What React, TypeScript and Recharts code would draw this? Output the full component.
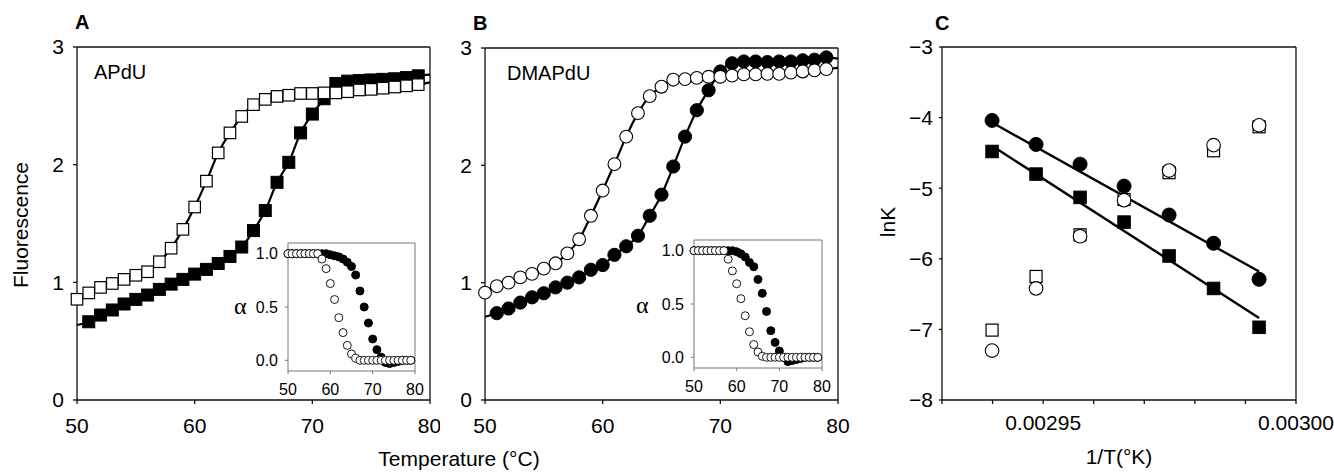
import React from 'react';
import { ComposedChart, Line, Scatter, XAxis, YAxis, ReferenceLine } from 'recharts';

// ---------- Panel A (APdU) ----------
const tempA_open = [50, 51, 52, 53, 54, 55, 56, 57, 58, 59, 60, 61, 62, 63, 64, 65, 66, 67, 68, 69, 70, 71, 72, 73, 74, 75, 76, 77, 78, 79];
const fluorA_open = [0.856, 0.91, 0.957, 0.99, 1.025, 1.06, 1.09, 1.175, 1.29, 1.45, 1.64, 1.86, 2.1, 2.27, 2.41, 2.51, 2.555, 2.58, 2.59, 2.605, 2.605, 2.61, 2.61, 2.62, 2.635, 2.64, 2.65, 2.66, 2.67, 2.68];
const tempA_filled = [51, 52, 53, 54, 55, 56, 57, 58, 59, 60, 61, 62, 63, 64, 65, 66, 67, 68, 69, 70, 71, 72, 73, 74, 75, 76, 77, 78, 79];
const fluorA_filled = [0.665, 0.722, 0.765, 0.816, 0.855, 0.892, 0.94, 0.985, 1.025, 1.07, 1.11, 1.16, 1.22, 1.3, 1.44, 1.61, 1.85, 2.02, 2.27, 2.43, 2.56, 2.69, 2.71, 2.715, 2.72, 2.725, 2.73, 2.74, 2.755];
const fitEndsA_filled = [0.637, 2.765]; // fit curve values at 50 and 80 °C
const fitEndA_open = 2.7; // fit curve value at 80 °C

// ---------- Panel B (DMAPdU) ----------
const tempB_open = [50, 51, 52, 53, 54, 55, 56, 57, 58, 59, 60, 61, 62, 63, 64, 65, 66, 67, 68, 69, 70, 71, 72, 73, 74, 75, 76, 77, 78, 79];
const fluorB_open = [0.915, 0.97, 1.0, 1.045, 1.075, 1.12, 1.165, 1.25, 1.37, 1.57, 1.785, 2.01, 2.245, 2.445, 2.59, 2.67, 2.73, 2.735, 2.745, 2.755, 2.755, 2.765, 2.775, 2.775, 2.78, 2.78, 2.79, 2.8, 2.81, 2.82];
const tempB_filled = [51, 52, 53, 54, 55, 56, 57, 58, 59, 60, 61, 62, 63, 64, 65, 66, 67, 68, 69, 70, 71, 72, 73, 74, 75, 76, 77, 78, 79];
const fluorB_filled = [0.74, 0.78, 0.83, 0.875, 0.91, 0.96, 1.0, 1.045, 1.11, 1.15, 1.237, 1.31, 1.4, 1.57, 1.75, 1.99, 2.245, 2.47, 2.64, 2.8, 2.87, 2.885, 2.885, 2.88, 2.885, 2.885, 2.895, 2.9, 2.92];
const fitEndsB_filled = [0.71, 2.91];
const fitEndB_open = 2.83;

// ---------- Insets (alpha vs temperature) ----------
const insetTemp = [50, 51, 52, 53, 54, 55, 56, 57, 58, 59, 60, 61, 62, 63, 64, 65, 66, 67, 68, 69, 70, 71, 72, 73, 74, 75, 76, 77, 78, 79];
const alphaA_open = [1, 1, 1, 1, 1, 1, 1, 1, 0.95, 0.86, 0.72, 0.57, 0.4, 0.26, 0.14, 0.06, 0.02, 0, 0, 0, 0, 0, 0, 0, 0, 0, 0, 0, 0, 0];
const alphaA_filled = [1, 1, 1, 1, 1, 1, 1, 1, 1, 1, 0.99, 0.98, 0.97, 0.95, 0.92, 0.88, 0.8, 0.65, 0.5, 0.35, 0.2, 0.1, 0.03, -0.02, -0.03, -0.02, -0.01, 0, 0, 0];
const alphaB_open = [1, 1, 1, 1, 1, 1, 1, 1, 0.92, 0.81, 0.69, 0.55, 0.39, 0.24, 0.12, 0.05, 0.01, 0, 0, 0, 0, 0, 0, 0, 0, 0, 0, 0, 0, 0];
const alphaB_filled = [1, 1, 1, 1, 1, 1, 1, 1, 1, 1, 0.99, 0.97, 0.94, 0.89, 0.85, 0.73, 0.6, 0.43, 0.25, 0.14, 0.06, 0.0, -0.04, -0.03, -0.02, -0.01, 0, 0, 0, 0];

// ---------- Panel C (van 't Hoff) ----------
const invT = [0.0029399, 0.0029486, 0.0029573, 0.002966, 0.0029749, 0.0029837, 0.0029927];
const lnK_filledCircle = [-4.04, -4.38, -4.66, -4.97, -5.38, -5.78, -6.29];
const lnK_filledSquare = [-4.48, -4.8, -5.13, -5.48, -5.96, -6.42, -6.97];
const lnK_openSquare = [-7.01, -6.25, -5.66, -5.16, -4.78, -4.47, -4.13];
const lnK_openCircle = [-7.3, -6.42, -5.68, -5.17, -4.75, -4.39, -4.11];
const fitX_C = [0.0029399, 0.0029927];
const fitCircle_C = [-4.07, -6.18];
const fitSquare_C = [-4.4, -6.84];

const ticksMainX = [50, 60, 70, 80];
const ticksMainY = [0, 1, 2, 3];
const ticksInsetY = [0, 0.5, 1];
const ticksC_X = [0.00293, 0.00294, 0.00295, 0.00296, 0.00297, 0.00298, 0.00299, 0.003];
const tickLabelsC_X = ['', '', '0.00295', '', '', '', '', '0.00300'];
const ticksC_Y = [-8, -7, -6, -5, -4, -3];

const FONT = "'Liberation Sans', Arial, Helvetica, sans-serif";
const H = 472;
const TICK_FS = 21;
const TITLE_FS = 21;

const zip = (xs: number[], ys: number[]) => xs.map((t, i) => ({ t, f: ys[i] }));

const sqFilled = (s: number) => (p: any) => (
  <rect x={p.cx - s / 2} y={p.cy - s / 2} width={s} height={s} fill="#000" stroke="#000" strokeWidth={1} />
);
const sqOpen = (s: number) => (p: any) => (
  <rect x={p.cx - s / 2} y={p.cy - s / 2} width={s} height={s} fill="#fff" stroke="#000" strokeWidth={1.2} />
);
const ciFilled = (r: number) => (p: any) => <circle cx={p.cx} cy={p.cy} r={r} fill="#000" stroke="#000" strokeWidth={1} />;
const ciOpen = (r: number, sw: number) => (p: any) => (
  <circle cx={p.cx} cy={p.cy} r={r} fill="#fff" stroke="#000" strokeWidth={sw} />
);

type Geo = { x0: number; y0: number; w: number; h: number; pl: number; pr: number; pt: number; pb: number; yw: number; xh: number };
const marginOf = (g: Geo) => ({
  top: g.pt - g.y0,
  left: g.pl - g.x0 - g.yw,
  right: g.x0 + g.w - g.pr,
  bottom: g.y0 + g.h - g.pb - g.xh,
});

const AXIS = '#111';

function MainMelt(props: {
  geo: Geo;
  lineFilled: any[];
  lineOpen: any[];
  filled: any[];
  open: any[];
  filledShape: any;
  openShape: any;
}) {
  const { geo } = props;
  return (
    <div style={{ position: 'absolute', left: geo.x0, top: geo.y0 }}>
      <ComposedChart width={geo.w} height={geo.h} margin={marginOf(geo)} style={{ overflow: 'visible' }}>
        <XAxis
          type="number"
          dataKey="t"
          domain={[50, 80]}
          ticks={ticksMainX}
          height={geo.xh}
          tickSize={4}
          tickMargin={14}
          stroke={AXIS}
          axisLine={{ stroke: AXIS, strokeWidth: 1.3 }}
          tickLine={{ stroke: AXIS, strokeWidth: 1.3 }}
          tick={{ fill: '#000', fontSize: TICK_FS, fontFamily: FONT }}
        />
        <YAxis
          type="number"
          domain={[0, 3]}
          ticks={ticksMainY}
          width={geo.yw}
          tickSize={4}
          tickMargin={9}
          stroke={AXIS}
          axisLine={{ stroke: AXIS, strokeWidth: 1.3 }}
          tickLine={{ stroke: AXIS, strokeWidth: 1.3 }}
          tick={{ fill: '#000', fontSize: TICK_FS, fontFamily: FONT }}
        />
        <ReferenceLine y={3} stroke={AXIS} strokeWidth={1.3} />
        <ReferenceLine x={80} stroke={AXIS} strokeWidth={1.3} />
        <Line data={props.lineFilled} dataKey="f" type="monotone" stroke="#000" strokeWidth={2.2} dot={false} activeDot={false} isAnimationActive={false} />
        <Line data={props.lineOpen} dataKey="f" type="monotone" stroke="#000" strokeWidth={2.2} dot={false} activeDot={false} isAnimationActive={false} />
        <Scatter data={props.filled} dataKey="f" shape={props.filledShape} isAnimationActive={false} />
        <Scatter data={props.open} dataKey="f" shape={props.openShape} isAnimationActive={false} />
      </ComposedChart>
    </div>
  );
}

function Inset(props: { geo: Geo; filled: any[]; open: any[] }) {
  const { geo } = props;
  const GR = '#777';
  return (
    <div style={{ position: 'absolute', left: geo.x0, top: geo.y0 }}>
      <ComposedChart width={geo.w} height={geo.h} margin={marginOf(geo)} style={{ overflow: 'visible' }}>
        <XAxis
          type="number"
          dataKey="t"
          domain={[50, 80]}
          ticks={ticksMainX}
          height={geo.xh}
          tickSize={3}
          tickMargin={10}
          axisLine={{ stroke: GR, strokeWidth: 1 }}
          tickLine={{ stroke: GR, strokeWidth: 1 }}
          tick={{ fill: '#000', fontSize: 16, fontFamily: FONT }}
        />
        <YAxis
          type="number"
          domain={[-0.1, 1.1]}
          ticks={ticksInsetY}
          width={geo.yw}
          tickSize={3}
          tickMargin={7}
          tickFormatter={(v: number) => v.toFixed(1)}
          axisLine={{ stroke: GR, strokeWidth: 1 }}
          tickLine={{ stroke: GR, strokeWidth: 1 }}
          tick={{ fill: '#000', fontSize: 16, fontFamily: FONT }}
        />
        <ReferenceLine y={1.1} stroke={GR} strokeWidth={1} />
        <ReferenceLine x={80} stroke={GR} strokeWidth={1} />
        <Scatter data={props.filled} dataKey="f" shape={ciFilled(4)} isAnimationActive={false} />
        <Scatter data={props.open} dataKey="f" shape={ciOpen(4, 0.9)} isAnimationActive={false} />
      </ComposedChart>
    </div>
  );
}

function PanelC() {
  const geo: Geo = { x0: 880, y0: 0, w: 454, h: H, pl: 942, pr: 1296, pt: 47, pb: 400, yw: 50, xh: 40 };
  const pts = (ys: number[]) => invT.map((t, i) => ({ t, f: ys[i] }));
  const fit = (ys: number[]) => fitX_C.map((t, i) => ({ t, f: ys[i] }));
  const minus = (v: number) => (v < 0 ? '\u2212' + Math.abs(v) : String(v));
  return (
    <div style={{ position: 'absolute', left: geo.x0, top: geo.y0 }}>
      <ComposedChart width={geo.w} height={geo.h} margin={marginOf(geo)} style={{ overflow: 'visible' }}>
        <XAxis
          type="number"
          dataKey="t"
          domain={[0.00293, 0.003]}
          ticks={ticksC_X}
          tickFormatter={(_v: number, i: number) => tickLabelsC_X[i] ?? ''}
          interval={0}
          height={geo.xh}
          tickSize={4}
          tickMargin={11}
          axisLine={{ stroke: AXIS, strokeWidth: 1.3 }}
          tickLine={{ stroke: AXIS, strokeWidth: 1.3 }}
          tick={{ fill: '#000', fontSize: TICK_FS, fontFamily: FONT }}
        />
        <YAxis
          type="number"
          domain={[-8, -3]}
          ticks={ticksC_Y}
          tickFormatter={minus}
          width={geo.yw}
          tickSize={3}
          tickMargin={6}
          axisLine={{ stroke: AXIS, strokeWidth: 1.3 }}
          tickLine={{ stroke: AXIS, strokeWidth: 1.3 }}
          tick={{ fill: '#000', fontSize: TICK_FS, fontFamily: FONT }}
        />
        <ReferenceLine y={-3} stroke={AXIS} strokeWidth={1.3} />
        <ReferenceLine x={0.003} stroke={AXIS} strokeWidth={1.3} />
        <Line data={fit(fitCircle_C)} dataKey="f" type="linear" stroke="#000" strokeWidth={2.4} dot={false} activeDot={false} isAnimationActive={false} />
        <Line data={fit(fitSquare_C)} dataKey="f" type="linear" stroke="#000" strokeWidth={2.4} dot={false} activeDot={false} isAnimationActive={false} />
        <Scatter data={pts(lnK_filledSquare)} dataKey="f" shape={sqFilled(12.5)} isAnimationActive={false} />
        <Scatter data={pts(lnK_filledCircle)} dataKey="f" shape={ciFilled(7)} isAnimationActive={false} />
        <Scatter data={pts(lnK_openSquare)} dataKey="f" shape={sqOpen(12)} isAnimationActive={false} />
        <Scatter data={pts(lnK_openCircle)} dataKey="f" shape={ciOpen(6.8, 1.1)} isAnimationActive={false} />
      </ComposedChart>
    </div>
  );
}

export default function App() {
  const geoA: Geo = { x0: 0, y0: 0, w: 440, h: H, pl: 77, pr: 430, pt: 47, pb: 400, yw: 60, xh: 40 };
  const geoB: Geo = { x0: 440, y0: 0, w: 410, h: H, pl: 485, pr: 838, pt: 48, pb: 400, yw: 40, xh: 40 };
  const geoIA: Geo = { x0: 230, y0: 230, w: 200, h: 180, pl: 288, pr: 415, pt: 243, pb: 371, yw: 40, xh: 30 };
  const geoIB: Geo = { x0: 636, y0: 227, w: 200, h: 180, pl: 694, pr: 822, pt: 240, pb: 368, yw: 40, xh: 30 };

  const lineA_filled = [{ t: 50, f: fitEndsA_filled[0] }, ...zip(tempA_filled, fluorA_filled), { t: 80, f: fitEndsA_filled[1] }];
  const lineA_open = [...zip(tempA_open, fluorA_open), { t: 80, f: fitEndA_open }];
  const lineB_filled = [{ t: 50, f: fitEndsB_filled[0] }, ...zip(tempB_filled, fluorB_filled), { t: 80, f: fitEndsB_filled[1] }];
  const lineB_open = [...zip(tempB_open, fluorB_open), { t: 80, f: fitEndB_open }];

  const txt = { fontFamily: FONT, fill: '#000' };
  const serif = "'Liberation Serif', 'DejaVu Serif', serif";

  return (
    <div style={{ position: 'absolute', left: 0, top: 0, width: 1334, height: H, background: '#fff', overflow: 'hidden' }}>
      <MainMelt
        geo={geoA}
        lineFilled={lineA_filled}
        lineOpen={lineA_open}
        filled={zip(tempA_filled, fluorA_filled)}
        open={zip(tempA_open, fluorA_open)}
        filledShape={sqFilled(12)}
        openShape={sqOpen(11.5)}
      />
      <MainMelt
        geo={geoB}
        lineFilled={lineB_filled}
        lineOpen={lineB_open}
        filled={zip(tempB_filled, fluorB_filled)}
        open={zip(tempB_open, fluorB_open)}
        filledShape={ciFilled(6.6)}
        openShape={ciOpen(6.4, 1.1)}
      />
      <Inset geo={geoIA} filled={zip(insetTemp, alphaA_filled)} open={zip(insetTemp, alphaA_open)} />
      <Inset geo={geoIB} filled={zip(insetTemp, alphaB_filled)} open={zip(insetTemp, alphaB_open)} />
      <PanelC />
      <svg width={1334} height={H} style={{ position: 'absolute', left: 0, top: 0, pointerEvents: 'none', overflow: 'visible' }}>
        <text x={75} y={29} fontSize={20} fontWeight="bold" {...txt}>A</text>
        <text x={473} y={30} fontSize={20} fontWeight="bold" {...txt}>B</text>
        <text x={935} y={30} fontSize={20} fontWeight="bold" {...txt}>C</text>
        <text x={94} y={79} fontSize={20} {...txt}>APdU</text>
        <text x={507} y={80} fontSize={20} {...txt}>DMAPdU</text>
        <text x={28} y={225} fontSize={TITLE_FS} textAnchor="middle" transform="rotate(-90 28 225)" {...txt}>Fluorescence</text>
        <text x={459} y={466} fontSize={TITLE_FS} textAnchor="middle" {...txt}>Temperature (°C)</text>
        <text x={895} y={222} fontSize={TITLE_FS} textAnchor="middle" transform="rotate(-90 895 222)" {...txt}>lnK</text>
        <text x={1119} y={464} fontSize={TITLE_FS} textAnchor="middle" {...txt}>1/T(°K)</text>
        <text x={234} y={314} fontSize={24} fontFamily={serif} fill="#000">α</text>
        <text x={636} y={313} fontSize={24} fontFamily={serif} fill="#000">α</text>
      </svg>
    </div>
  );
}
